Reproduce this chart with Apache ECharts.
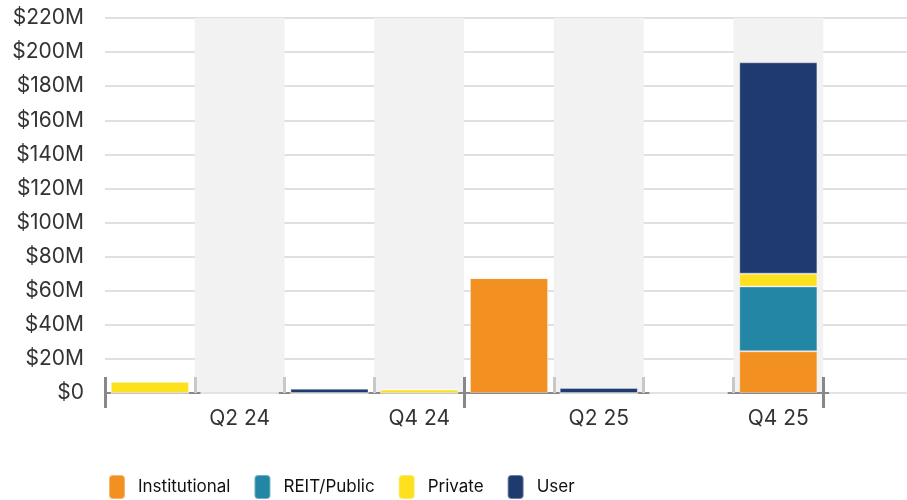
<!DOCTYPE html>
<html>
<head>
<meta charset="utf-8">
<script src="https://cdn.jsdelivr.net/npm/echarts@6/dist/echarts.min.js"></script>
<style>
  html, body { margin: 0; padding: 0; background: #fff; }
  #main { width: 907px; height: 500px; }
</style>
</head>
<body>
<div id="main"></div>
<script>
// quarters on the x axis
var quarters = ['Q1 24', 'Q2 24', 'Q3 24', 'Q4 24', 'Q1 25', 'Q2 25', 'Q3 25', 'Q4 25', 'Q1 26'];
// $ millions per quarter
var institutional = [0, 0, 0, 0, 67.4, 0, 0, 24.5, 0];
var reitPublic    = [0, 0, 0, 0, 0, 0, 0, 38, 0];
var privateCap    = [6.6, 0, 0, 2, 0, 0, 0, 7.5, 0];
var user          = [0, 0, 2.5, 0, 0, 2.9, 0, 124, 0];

var seriesNames = ['Institutional', 'REIT/Public', 'Private', 'User'];
var colors = ['#F39022', '#2386A5', '#FDE11E', '#1F3A6E'];

var myChart = echarts.init(document.getElementById('main'));

var majorTick = function (i) { return i % 4 === 0; };

function bar(name, data, color) {
  return {
    name: name,
    type: 'bar',
    stack: 'total',
    barWidth: '87%',
    data: data,
    itemStyle: { color: color, borderColor: 'rgba(255,255,255,0.35)', borderWidth: 1 }
  };
}

myChart.setOption({
  animation: false,
  color: colors,
  textStyle: { fontFamily: 'Inter' },
  grid: { left: 105, width: 808, top: 18, height: 375, outerBoundsMode: 'none' },
  legend: {
    data: seriesNames,
    left: 108,
    top: 474,
    padding: 0,
    icon: 'roundRect',
    itemWidth: 16,
    itemHeight: 24,
    itemGap: 23,
    textStyle: { fontFamily: 'Inter', fontSize: 17, color: '#111', padding: [0, 0, 0, 8] }
  },
  xAxis: [
    {
      type: 'category',
      data: quarters,
      position: 'bottom',
      axisLine: { lineStyle: { color: '#888', width: 2 } },
      axisTick: { show: true, inside: true, length: 16, interval: 0, lineStyle: { color: '#c8c8c8', width: 3 } },
      axisLabel: {
        interval: function (i) { return i % 2 === 1; },
        margin: 15,
        fontSize: 21,
        color: '#333'
      },
      splitArea: { show: true, interval: 0, areaStyle: { color: ['rgba(255,255,255,0)', '#f2f2f2'] } }
    },
    {
      type: 'category',
      data: quarters,
      position: 'bottom',
      axisLine: { show: false },
      axisLabel: { show: false },
      axisTick: { show: true, inside: true, length: 16, interval: majorTick, lineStyle: { color: '#888', width: 3 } }
    },
    {
      type: 'category',
      data: quarters,
      position: 'bottom',
      axisLine: { show: false },
      axisLabel: { show: false },
      axisTick: { show: true, length: 15, interval: majorTick, lineStyle: { color: '#888', width: 3 } }
    }
  ],
  yAxis: {
    type: 'value',
    min: 0,
    max: 220,
    interval: 20,
    axisLine: { show: false },
    axisTick: { show: false },
    axisLabel: {
      margin: 21,
      fontSize: 21,
      color: '#333',
      formatter: function (v) { return v === 0 ? '$0' : '$' + v + 'M'; }
    },
    splitLine: { lineStyle: { color: '#d6d6d6', width: 1.5 } }
  },
  series: [
    bar(seriesNames[0], institutional, colors[0]),
    bar(seriesNames[1], reitPublic, colors[1]),
    bar(seriesNames[2], privateCap, colors[2]),
    bar(seriesNames[3], user, colors[3])
  ]
});
</script>
</body>
</html>
